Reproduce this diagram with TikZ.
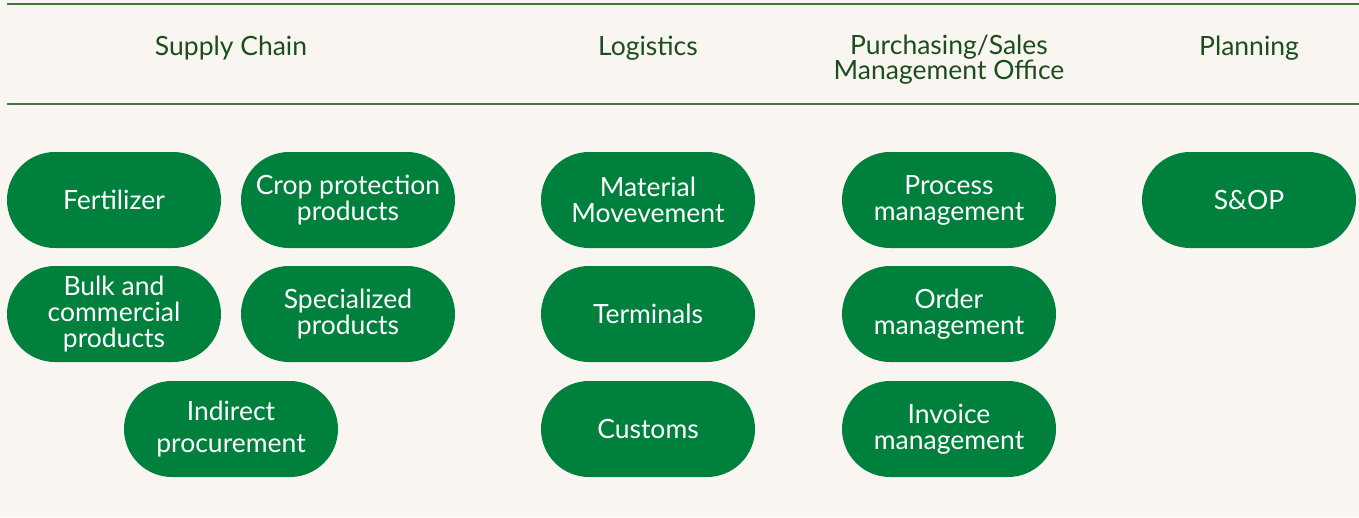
\documentclass[tikz,border=0pt]{standalone}
\usepackage{fontspec}
\setmainfont{Lato}
\usetikzlibrary{positioning}
\definecolor{bgcolor}{RGB}{249,246,241}
\definecolor{pillcolor}{RGB}{0,128,61}
\definecolor{headcolor}{RGB}{28,77,28}
\definecolor{rulecolor}{RGB}{75,115,65}

\begin{document}
\begin{tikzpicture}[x=1pt,y=-1pt,
		% Box styles
		pill/.style={rectangle, rounded corners=48pt, minimum height=96pt, minimum width=214pt,
			fill=pillcolor, draw=none, text=white, align=center, inner sep=0pt,
			font=\fontsize{26.5}{26}\selectfont},
		% Text styles
		header/.style={text=headcolor, align=center, inner sep=0pt,
			font=\fontsize{26.5}{25}\selectfont},
		rule/.style={draw=rulecolor, line width=1.2pt}
		]
		
		% Background
		\fill[bgcolor] (0,0) rectangle (1359,517);
		\useasboundingbox (0,0) rectangle (1359,517);
		
		% Header rules
		\coordinate (rule_tl) at (7,4);
		\coordinate (rule_tr) at (1359,4);
		\coordinate (rule_bl) at (7,104);
		\coordinate (rule_br) at (1359,104);
		\draw[rule] (rule_tl) -- (rule_tr);
		\draw[rule] (rule_bl) -- (rule_br);
		
		% Column headers
		\node[header] (h_supply) at (231,48) {Supply Chain};
		\node[header] (h_logistics) at (648,48) {Logistics};
		\node[header] (h_office) at (949,60) {Purchasing/Sales\\Management Office};
		\node[header] (h_planning) at (1249,48) {Planning};
		
		% Supply chain
		\node[pill] (fertilizer) at (114,200) {Fertilizer};
		\node[pill] (crop) at (348,200) {Crop protection\\products};
		\node[pill] (bulk) at (114,314) {Bulk and\\commercial\\products};
		\node[pill] (special) at (348,314) {Specialized\\products};
		\node[pill] (indirect) at (231,429) {Indirect\\[6pt]procurement};
		
		% Logistics
		\node[pill] (material) at (648,200) {Material\\Movevement};
		\node[pill] (terminals) at (648,314) {Terminals};
		\node[pill] (customs) at (648,429) {Customs};
		
		% Purchasing/Sales office
		\node[pill] (process) at (949,200) {Process\\management};
		\node[pill] (order) at (949,314) {Order\\management};
		\node[pill] (invoice) at (949,429) {Invoice\\management};
		
		% Planning
		\node[pill] (sop) at (1249,200) {S\&OP};
		
	\end{tikzpicture}
\end{document}
